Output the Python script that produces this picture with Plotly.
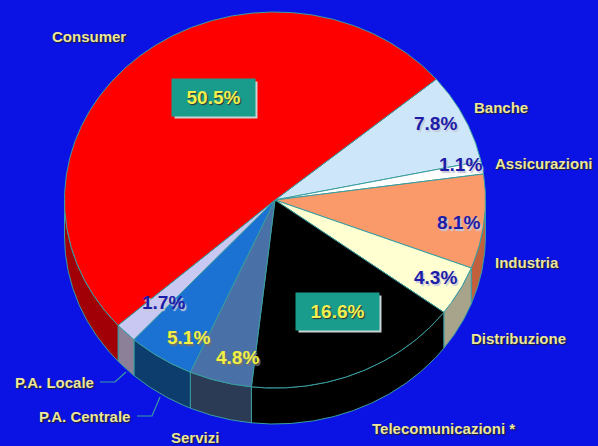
import numpy as np
import plotly.graph_objects as go

# ---------------- data ----------------
categories = ["Banche", "Assicurazioni", "Industria", "Distribuzione",
              "Telecomunicazioni *", "Servizi", "P.A. Centrale", "P.A. Locale",
              "Consumer"]
shares = [7.8, 1.1, 8.1, 4.3, 16.6, 4.8, 5.1, 1.7, 50.5]

# ---------------- styles ----------------
top_colors = ["#CDE6FA", "#FFFFFF", "#FA9A6A", "#FFFFD2", "#000000",
              "#4A70A8", "#1C72D2", "#C8C8F2", "#FF0000"]
side_colors = ["#8FA8C0", "#C0C0C0", "#C0603C", "#A8A48C", "#000000",
               "#2B3B55", "#0C3D6C", "#8C8098", "#A00006"]
edge_color = "#3A9E9E"
BG = "#0A12E4"

CX, CY, RX, RY, DEPTH = 275, 200, 210.5, 188, 36
START = 50  # degrees clockwise from 12 o'clock

def arc(a0, a1, dy=0, n=None):
    n = n or max(4, int(abs(a1 - a0) * 2))
    t = np.radians(np.linspace(a0, a1, n))
    return CX + RX * np.sin(t), CY - RY * np.cos(t) + dy

bounds = START + np.concatenate([[0], np.cumsum(shares)]) * 3.6

fig = go.Figure()

# side (depth) faces, only lower half is visible
for i in range(len(shares)):
    a0, a1 = bounds[i], bounds[i + 1]
    lo, hi = max(a0, 90), min(a1, 270)
    if hi <= lo:
        continue
    xt, yt = arc(lo, hi)
    xb, yb = arc(lo, hi, DEPTH)
    xs = np.concatenate([xt, xb[::-1], xt[:1]])
    ys = np.concatenate([yt, yb[::-1], yt[:1]])
    fig.add_trace(go.Scatter(x=xs, y=ys, mode="lines", fill="toself",
                             fillcolor=side_colors[i],
                             line=dict(color=edge_color, width=1),
                             hoverinfo="skip", showlegend=False))

# top faces
for i, (cat, v) in enumerate(zip(categories, shares)):
    xa, ya = arc(bounds[i], bounds[i + 1])
    xs = np.concatenate([[CX], xa, [CX]])
    ys = np.concatenate([[CY], ya, [CY]])
    fig.add_trace(go.Scatter(x=xs, y=ys, mode="lines", fill="toself",
                             fillcolor=top_colors[i],
                             line=dict(color=edge_color, width=1),
                             name=cat, text=f"{cat}: {v:.1f}%",
                             hoverinfo="text", showlegend=False))

# ---------------- labels ----------------
FONT = "Liberation Sans, Arial, sans-serif"
name_pos = {
    "Consumer": (89, 36), "Banche": (501, 107), "Assicurazioni": (544, 163),
    "Industria": (527, 262), "Distribuzione": (518, 338),
    "Telecomunicazioni *": (443, 428), "Servizi": (195, 437),
    "P.A. Centrale": (84, 416), "P.A. Locale": (54, 382),
}
for cat in categories:
    x, y = name_pos[cat]
    fig.add_annotation(x=x, y=y, xref="x", yref="y", text=cat, showarrow=False,
                       font=dict(family=FONT, size=15, color="#ECE6A0",
                                 weight="bold", shadow="1px 1px 1px #202020"))

pct_pos = {
    "Banche": (435, 123, "blue"), "Assicurazioni": (460, 164, "blue"),
    "Industria": (458, 222, "blue"), "Distribuzione": (435, 277, "blue"),
    "Telecomunicazioni *": (337, 311, "box"), "Servizi": (237, 357, "yellow"),
    "P.A. Centrale": (188, 337, "yellow"), "P.A. Locale": (163, 302, "blue"),
    "Consumer": (213, 97, "box"),
}
for cat, v in zip(categories, shares):
    x, y, kind = pct_pos[cat]
    txt = f"{v:.1f}%"
    if kind == "box":
        fig.add_shape(type="rect", xref="x", yref="y",
                      x0=x - 41.5 + 3, x1=x + 41.5 + 3, y0=y - 18.5 + 3, y1=y + 18.5 + 3,
                      fillcolor="#C8D4D4", line=dict(width=0), layer="above")
        fig.add_annotation(x=x, y=y, xref="x", yref="y", text=txt, showarrow=False,
                           width=83, height=37, bgcolor="#1A9C8C", borderpad=0,
                           font=dict(family=FONT, size=19, color="#F2F050",
                                     weight="bold", shadow="1px 1px 1px #303030"))
    elif kind == "blue":
        fig.add_annotation(x=x, y=y, xref="x", yref="y", text=txt, showarrow=False,
                           font=dict(family=FONT, size=19, color="#1C1CA8",
                                     weight="bold", shadow="1.5px 1.5px 1px #C8C8D8"))
    else:
        fig.add_annotation(x=x, y=y, xref="x", yref="y", text=txt, showarrow=False,
                           font=dict(family=FONT, size=19, color="#F2F040",
                                     weight="bold", shadow="1.5px 1.5px 1px #707070"))

# leader lines
fig.add_shape(type="path", xref="x", yref="y", path="M 100 382 L 115 382 L 126 372",
              line=dict(color="#3A9E9E", width=1.2))
fig.add_shape(type="path", xref="x", yref="y", path="M 137 416 L 152 416 L 160 397",
              line=dict(color="#3A9E9E", width=1.2))

fig.update_layout(
    width=598, height=446, margin=dict(l=0, r=0, t=0, b=0),
    paper_bgcolor=BG, plot_bgcolor=BG,
    xaxis=dict(range=[0, 598], visible=False, fixedrange=True),
    yaxis=dict(range=[446, 0], visible=False, fixedrange=True),
    showlegend=False,
)

fig.write_html("out.html",
               config={"displayModeBar": False},
               post_script="document.body.style.margin='0';document.body.style.overflow='hidden';")
